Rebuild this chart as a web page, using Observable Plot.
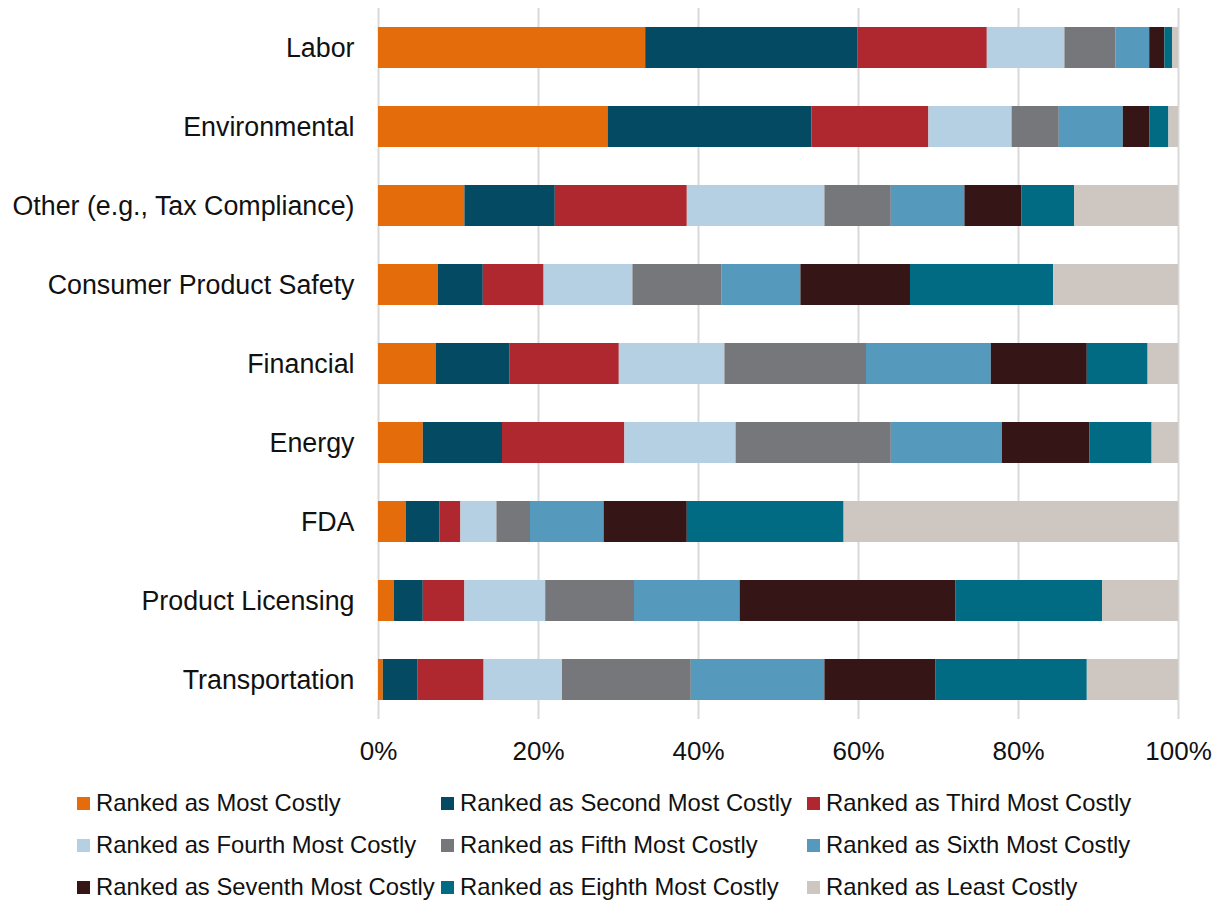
<!DOCTYPE html>
<html>
<head>
<meta charset="utf-8">
<script src="https://cdn.jsdelivr.net/npm/d3@7"></script>
<script src="https://cdn.jsdelivr.net/npm/@observablehq/plot@0.6"></script>
<style>
  html, body { margin: 0; padding: 0; background: #fff; }
  body { width: 1220px; height: 903px; overflow: hidden; font-family: "Liberation Sans", Arial, sans-serif; }
  #legend {
    display: grid;
    grid-template-columns: 364px 366px 366px;
    grid-auto-rows: 42px;
    margin-left: 77px;
    margin-top: 12px;
    font-size: 23.8px;
    color: #111;
  }
  .item { display: flex; align-items: center; white-space: nowrap; }
  .sw { width: 13px; height: 13px; margin-right: 6px; flex: none; }
</style>
</head>
<body>
<div id="chart"></div>
<div id="legend"></div>
<script>
const categories = ["Labor", "Environmental", "Other (e.g., Tax Compliance)", "Consumer Product Safety", "Financial", "Energy", "FDA", "Product Licensing", "Transportation"];

const seriesNames = [
  "Ranked as Most Costly",
  "Ranked as Second Most Costly",
  "Ranked as Third Most Costly",
  "Ranked as Fourth Most Costly",
  "Ranked as Fifth Most Costly",
  "Ranked as Sixth Most Costly",
  "Ranked as Seventh Most Costly",
  "Ranked as Eighth Most Costly",
  "Ranked as Least Costly"
];

const colors = ["#E46C0A", "#034A62", "#B0282F", "#B4D0E2", "#76777B", "#5599BC", "#361516", "#016B83", "#CEC6C1"];

// Percent shares per category (same order as categories)
const mostCostly    = [33.4, 28.7, 10.8,  7.5,  7.2,  5.6,  3.5,  2.0,  0.6];
const secondCostly  = [26.5, 25.5, 11.3,  5.6,  9.2,  9.9,  4.2,  3.6,  4.3];
const thirdCostly   = [16.2, 14.6, 16.5,  7.6, 13.7, 15.3,  2.6,  5.2,  8.3];
const fourthCostly  = [ 9.7, 10.4, 17.2, 11.1, 13.2, 13.9,  4.5, 10.1,  9.8];
const fifthCostly   = [ 6.4,  5.9,  8.3, 11.1, 17.7, 19.4,  4.2, 11.1, 16.1];
const sixthCostly   = [ 4.2,  8.0,  9.2,  9.9, 15.6, 13.9,  9.2, 13.2, 16.7];
const seventhCostly = [ 1.9,  3.3,  7.1, 13.7, 12.0, 10.9, 10.4, 27.0, 13.9];
const eighthCostly  = [ 0.95, 2.4,  6.6, 17.9,  7.6,  7.8, 19.6, 18.3, 18.9];
const leastCostly   = [ 0.75, 1.2, 13.0, 15.6,  3.8,  3.3, 41.8,  9.5, 11.4];

const xTicks = [0, 20, 40, 60, 80, 100];

const seriesValues = [mostCostly, secondCostly, thirdCostly, fourthCostly, fifthCostly, sixthCostly, seventhCostly, eighthCostly, leastCostly];

const data = [];
seriesNames.forEach((s, i) => {
  categories.forEach((c, j) => {
    data.push({category: c, series: s, value: seriesValues[i][j]});
  });
});

const chart = Plot.plot({
  width: 1220,
  height: 770,
  marginTop: 8,
  marginBottom: 51,
  marginLeft: 378,
  marginRight: 42,
  style: {fontFamily: "'Liberation Sans', Arial, sans-serif", fontSize: "26px", color: "#111", background: "#fff"},
  x: {domain: [0, 100], ticks: xTicks, tickFormat: d => d + "%", tickSize: 0, tickPadding: 22, label: null},
  y: {domain: categories, paddingInner: 0.48, paddingOuter: 0.24, tickSize: 0, tickPadding: 24, label: null},
  color: {domain: seriesNames, range: colors},
  marks: [
    Plot.ruleX(xTicks, {stroke: "#d9d9d9", strokeWidth: 2}),
    Plot.barX(data, Plot.stackX({
      x: "value",
      y: "category",
      z: "series",
      fill: "series",
      order: seriesNames
    })),
    Plot.axisX({ticks: xTicks, tickFormat: d => d + "%", tickSize: 0, tickPadding: 22, fontSize: 26, label: null}),
    Plot.axisY({tickSize: 0, tickPadding: 24, fontSize: 26.8, label: null})
  ]
});
document.getElementById("chart").appendChild(chart);

const legend = document.getElementById("legend");
seriesNames.forEach((s, i) => {
  const item = document.createElement("div");
  item.className = "item";
  const sw = document.createElement("span");
  sw.className = "sw";
  sw.style.background = colors[i];
  const t = document.createElement("span");
  t.textContent = s;
  item.appendChild(sw);
  item.appendChild(t);
  legend.appendChild(item);
});
</script>
</body>
</html>
